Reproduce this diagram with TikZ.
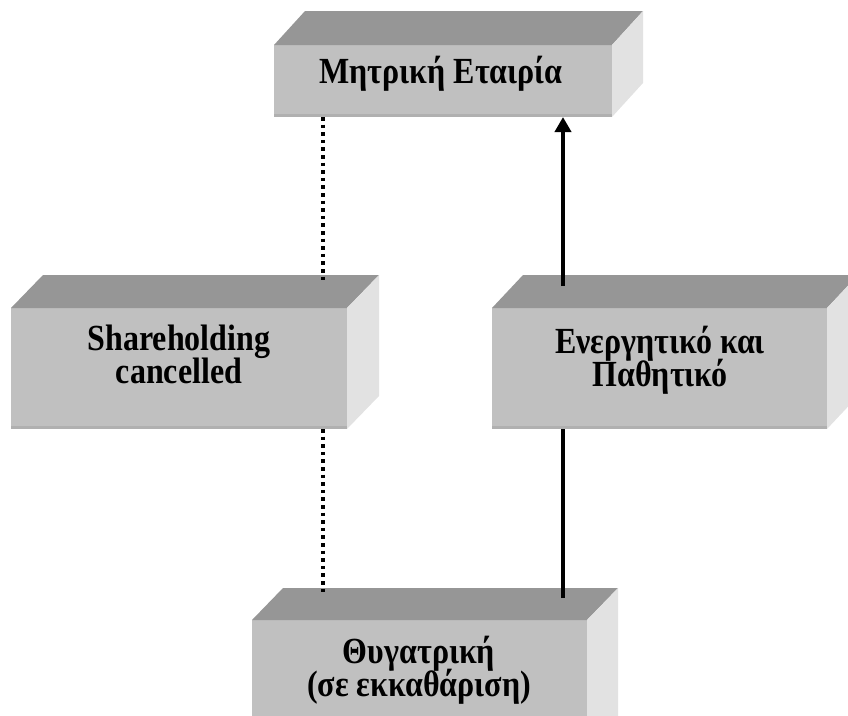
\documentclass[tikz,border=0pt]{standalone}
\usepackage{fontspec}
\usepackage{graphicx}
\setmainfont{Liberation Serif}
\usetikzlibrary{arrows.meta}
\definecolor{frontgray}{HTML}{C0C0C0}
\definecolor{topgray}{HTML}{969696}
\definecolor{sidegray}{HTML}{E2E2E2}
\definecolor{edgegray}{HTML}{B0B0B0}
\newcommand{\talltext}[1]{\scalebox{1}[1.15]{#1}}
\newcommand{\twolines}[2]{\scalebox{1}[1.15]{\vtop{\baselineskip=29.5pt\lineskiplimit=-100pt\halign{\hfil##\hfil\cr #1\cr #2\cr}}}}
\begin{document}
\begin{tikzpicture}[x=1pt,y=-1pt,
  frontface/.style={fill=frontgray,draw=none,inner sep=0pt,outer sep=0pt},
  topface/.style={fill=topgray},
  sideface/.style={fill=sidegray},
  lbl/.style={anchor=base,inner sep=0pt,font=\fontsize{32}{30}\selectfont\bfseries},
  dotline/.style={line width=3.6pt,dash pattern=on 3.6pt off 4pt},
  solidline/.style={line width=4pt},
  arrowline/.style={line width=4pt,-{Triangle[width=16pt,length=15pt]}}]
\clip (0,0) rectangle (848,715);
\useasboundingbox (0,0) rectangle (848,715);
\newcommand{\slabfaces}[3]{%
  \fill[topface] (#1.north west) -- ++(#2,-#3) -- ([shift={(#2,-#3)}]#1.north east) -- (#1.north east) -- cycle;
  \fill[sideface] (#1.north east) -- ++(#2,-#3) -- ([shift={(#2,-#3)}]#1.south east) -- (#1.south east) -- cycle;
  \fill[edgegray] ([yshift=3pt]#1.south west) rectangle (#1.south east);
}
% parent
\node[frontface,minimum width=338pt,minimum height=72pt] (parent) at (443,81) {};
\slabfaces{parent}{31}{34}
% shareholding
\node[frontface,minimum width=336pt,minimum height=121pt] (sh) at (179,368.5) {};
\slabfaces{sh}{32}{33}
% assets
\node[frontface,minimum width=335pt,minimum height=121pt] (right) at (659.5,368.5) {};
\slabfaces{right}{31}{33}
% child
\node[frontface,minimum width=335pt,minimum height=140pt] (child) at (419.5,690) {};
\slabfaces{child}{31}{32}
% labels
\node[lbl] (parentlbl) at (441,83) {\talltext{Μητρική Εταιρία}};
\node[lbl] (shlbl) at (179,350) {\twolines{Shareholding}{cancelled}};
\node[lbl] (rightlbl) at (660,353) {\twolines{Ενεργητικό και}{Παθητικό}};
\node[lbl] (childlbl) at (419,663) {\twolines{Θυγατρική}{(σε εκκαθάριση)}};
% connectors
\coordinate (shtop) at (323,283);
\coordinate (childtopL) at (323,593);
\coordinate (righttop) at (563,286);
\coordinate (childtopR) at (563,598);
\draw[dotline] (parent.south -| shtop) -- (shtop);
\draw[dotline] (sh.south -| childtopL) -- (childtopL);
\draw[arrowline] (righttop) -- (parent.south -| righttop);
\draw[solidline] (childtopR) -- (right.south -| childtopR);
\end{tikzpicture}
\end{document}
